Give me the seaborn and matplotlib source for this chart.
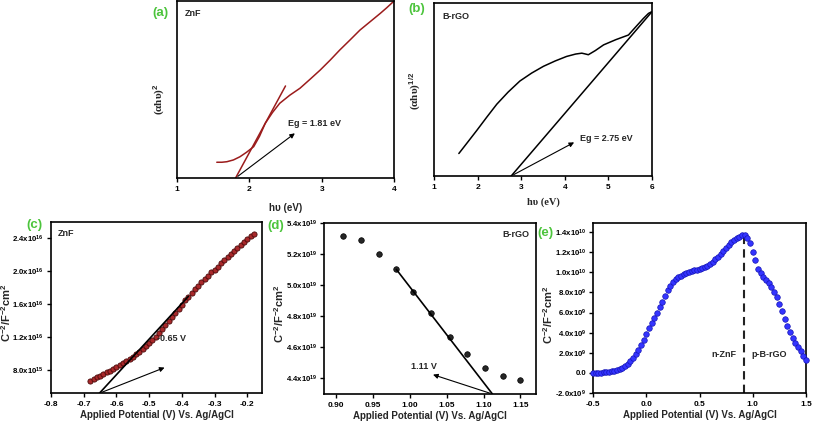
import matplotlib
matplotlib.use("Agg")
import matplotlib.pyplot as plt
import seaborn as sns

# ---- (a) ZnF Tauc plot ----
a_hv = [1.55, 1.62, 1.69, 1.78, 1.87, 1.96, 2.06, 2.14, 2.22, 2.32, 2.42, 2.56,
        2.70, 2.84, 2.98, 3.12, 3.25, 3.39, 3.53, 3.67, 3.81, 3.90, 3.99]
a_y = [8.9, 8.9, 9.2, 10.2, 12.0, 14.5, 17.7, 23.5, 30.9, 37.0, 42.2, 46.8,
       50.7, 55.8, 61.0, 66.7, 72.3, 77.9, 83.6, 88.3, 93.0, 96.2, 99.6]
a_fit_x = [1.81, 2.50]
a_fit_y = [0.0, 52.0]
a_eg = 1.81

# ---- (b) B-rGO Tauc plot ----
b_hv = [1.57, 1.78, 1.98, 2.21, 2.44, 2.70, 2.97, 3.24, 3.51, 3.78, 4.04, 4.25,
        4.39, 4.46, 4.54, 4.70, 4.89, 5.17, 5.46, 5.62, 5.80, 5.92, 5.99]
b_y = [13.0, 19.8, 26.3, 34.0, 41.5, 48.5, 54.9, 59.5, 63.4, 66.5, 69.1, 70.5,
       71.0, 70.6, 70.1, 72.5, 75.8, 78.8, 81.5, 86.0, 91.0, 94.0, 94.9]
b_fit_x = [2.77, 5.99]
b_fit_y = [0.0, 94.7]
b_eg = 2.77

# ---- (c) ZnF Mott-Schottky (x1e15) ----
c_v = [-0.68, -0.67, -0.66, -0.65, -0.64, -0.63, -0.62, -0.61, -0.60, -0.59,
       -0.58, -0.57, -0.56, -0.55, -0.54, -0.53, -0.52, -0.51, -0.50, -0.49,
       -0.48, -0.47, -0.46, -0.45, -0.44, -0.43, -0.42, -0.41, -0.40, -0.39,
       -0.38, -0.37, -0.36, -0.35, -0.34, -0.33, -0.32, -0.31, -0.30, -0.29,
       -0.28, -0.27, -0.26, -0.25, -0.24, -0.23, -0.22, -0.21, -0.20, -0.19, -0.18]
c_c2 = [6.7, 6.95, 7.15, 7.3, 7.5, 7.7, 7.9, 8.1, 8.35, 8.6,
        8.85, 9.1, 9.35, 9.6, 9.9, 10.2, 10.5, 10.9, 11.2, 11.6,
        12.0, 12.45, 12.9, 13.4, 13.9, 14.4, 14.9, 15.4, 15.9, 16.4,
        16.85, 17.3, 17.75, 18.2, 18.6, 19.0, 19.4, 19.8, 20.15, 20.5,
        20.9, 21.3, 21.65, 22.0, 22.4, 22.75, 23.1, 23.45, 23.8, 24.15, 24.45]
c_fit_x = [-0.652, -0.38]
c_fit_y = [5.17, 16.9]
c_yticks = [8.0, 12.0, 16.0, 20.0, 24.0]
c_ylabels = [r"8.0x10$^{15}$", r"1.2x10$^{16}$", r"1.6x10$^{16}$",
             r"2.0x10$^{16}$", r"2.4x10$^{16}$"]
c_xticks = [-0.8, -0.7, -0.6, -0.5, -0.4, -0.3, -0.2]

# ---- (d) B-rGO Mott-Schottky (x1e19) ----
d_v = [0.910, 0.934, 0.958, 0.982, 1.005, 1.029, 1.054, 1.078, 1.102, 1.126, 1.149]
d_c2 = [5.315, 5.293, 5.201, 5.101, 4.953, 4.820, 4.669, 4.558, 4.466, 4.417, 4.387]
d_fit_x = [0.982, 1.112]
d_fit_y = [5.101, 4.30]
d_yticks = [4.4, 4.6, 4.8, 5.0, 5.2, 5.4]
d_ylabels = [r"%.1fx10$^{19}$" % t for t in d_yticks]
d_xticks = [0.90, 0.95, 1.00, 1.05, 1.10, 1.15]

# ---- (e) heterojunction Mott-Schottky (x1e9) ----
e_v = [-0.500, -0.475, -0.450, -0.425, -0.400, -0.375, -0.350, -0.325, -0.300,
       -0.275, -0.250, -0.225, -0.200, -0.175, -0.150, -0.125, -0.100, -0.075,
       -0.050, -0.025, 0.000, 0.025, 0.050, 0.075, 0.100, 0.125, 0.150, 0.175,
       0.200, 0.225, 0.250, 0.275, 0.300, 0.325, 0.350, 0.375, 0.400, 0.425,
       0.450, 0.475, 0.500, 0.525, 0.550, 0.575, 0.600, 0.625, 0.650, 0.675,
       0.700, 0.725, 0.750, 0.775, 0.800, 0.825, 0.850, 0.875, 0.900, 0.925,
       0.950, 0.975, 1.000, 1.025, 1.050, 1.075, 1.100, 1.125, 1.150, 1.175,
       1.200, 1.225, 1.250, 1.275, 1.300, 1.325, 1.350, 1.375, 1.400, 1.425,
       1.450, 1.475, 1.500]
e_c2 = [0.00, 0.00, 0.02, 0.03, 0.05, 0.07, 0.10, 0.14, 0.19,
        0.25, 0.35, 0.48, 0.65, 0.88, 1.15, 1.45, 1.85, 2.25,
        2.75, 3.30, 3.90, 4.45, 4.95, 5.45, 5.95, 6.50, 7.05, 7.65,
        8.20, 8.65, 9.00, 9.30, 9.50, 9.65, 9.80, 9.95, 10.05, 10.12,
        10.20, 10.27, 10.33, 10.40, 10.50, 10.62, 10.80, 11.02, 11.28, 11.55,
        11.82, 12.12, 12.45, 12.75, 13.00, 13.25, 13.42, 13.55, 13.68, 13.72,
        13.45, 12.90, 12.05, 11.20, 10.35, 9.90, 9.55, 9.25, 8.95, 8.50,
        8.05, 7.50, 6.85, 6.15, 5.40, 4.70, 4.05, 3.50, 3.00, 2.55,
        2.15, 1.70, 1.25]
e_junction = 0.92
e_peak = 13.72
e_yticks = [-2, 0, 2, 4, 6, 8, 10, 12, 14]
e_ylabels = [r"-2.0x10$^{9}$", "0.0", r"2.0x10$^{9}$", r"4.0x10$^{9}$",
             r"6.0x10$^{9}$", r"8.0x10$^{9}$", r"1.0x10$^{10}$",
             r"1.2x10$^{10}$", r"1.4x10$^{10}$"]
e_xticks = [-0.5, 0.0, 0.5, 1.0, 1.5]

sns.set_theme(style="ticks")
plt.rcParams.update({
    "font.family": ["Liberation Sans", "DejaVu Sans"],
    "font.weight": "bold",
    "axes.labelweight": "bold",
    "mathtext.fontset": "custom",
    "mathtext.rm": "Liberation Sans:bold",
    "mathtext.bf": "Liberation Sans:bold",
    "mathtext.it": "Liberation Sans:bold:italic",
    "mathtext.default": "bf",
    "axes.linewidth": 1.2,
    "axes.edgecolor": "black",
    "xtick.color": "black",
    "ytick.color": "black",
    "xtick.labelsize": 6,
    "ytick.labelsize": 5.6,
    "xtick.major.size": 3,
    "ytick.major.size": 3,
    "xtick.major.width": 1,
    "ytick.major.width": 1,
    "xtick.major.pad": 2.5,
    "ytick.major.pad": 2,
})

W, H = 813, 426


def px_axes(x0, y0, x1, y1):
    return fig.add_axes([x0 / W, 1 - y1 / H, (x1 - x0) / W, (y1 - y0) / H])


def panel_label(x, y, s):
    fig.text(x / W, 1 - y / H, s, color="#4cc43c", fontsize=9.5,
             fontweight="bold", ha="center", va="center")


fig = plt.figure(figsize=(W / 100, H / 100), dpi=100)
red = "#9b1c1c"
bold = dict(fontweight="bold")
arrow = dict(arrowstyle="-|>", color="black", lw=0.8, mutation_scale=7)
serif = ["Liberation Serif", "DejaVu Serif"]

# (a)
ax = px_axes(177, 1, 394, 178)
sns.lineplot(x=a_hv, y=a_y, ax=ax, color=red, lw=1.1)
sns.lineplot(x=a_fit_x, y=a_fit_y, ax=ax, color=red, lw=1.1)
ax.annotate("", xy=(2.66, 26.2), xytext=(a_eg, 0), arrowprops=arrow)
ax.text(2.54, 31, "Eg = 1.81 eV", fontsize=6.5, va="center", **bold)
ax.text(0.035, 0.93, "ZnF", transform=ax.transAxes, fontsize=6.5, va="center", **bold)
ax.set_xlim(1, 4)
ax.set_ylim(0, 100)
ax.set_xticks([1, 2, 3, 4])
ax.set_yticks([])
ax.set_xlabel("hυ (eV)", fontsize=7)
ax.xaxis.set_label_coords(0.5, -0.14)
ax.set_ylabel(r"(αhυ)$^2$", fontsize=8, family=serif)
ax.yaxis.set_label_coords(-0.046, 0.445)
panel_label(160, 13, "(a)")

# (b)
ax = px_axes(434, 3, 652, 176)
sns.lineplot(x=b_hv, y=b_y, ax=ax, color="black", lw=1.1)
sns.lineplot(x=b_fit_x, y=b_fit_y, ax=ax, color="black", lw=1.1)
ax.annotate("", xy=(4.27, 20.2), xytext=(b_eg, 0), arrowprops=arrow)
ax.text(4.35, 21.7, "Eg = 2.75 eV", fontsize=6.5, va="center", **bold)
ax.text(0.04, 0.92, "B-rGO", transform=ax.transAxes, fontsize=6.5, va="center", **bold)
ax.set_xlim(1, 6)
ax.set_ylim(0, 100)
ax.set_xticks([1, 2, 3, 4, 5, 6])
ax.set_yticks([])
ax.set_xlabel("hυ (eV)", fontsize=7.5, family=serif)
ax.xaxis.set_label_coords(0.5, -0.125)
ax.set_ylabel(r"(αhυ)$^{1/2}$", fontsize=8, family=serif)
ax.yaxis.set_label_coords(-0.05, 0.49)
panel_label(417, 9, "(b)")

ms_label = r"C$^{-2}$/F$^{-2}$cm$^{2}$"
xl = "Applied Potential (V) Vs. Ag/AgCl"

# (c)
ax = px_axes(51, 222, 262, 393)
sns.scatterplot(x=c_v, y=c_c2, ax=ax, color="#a8282a", edgecolor="#4a0a0a",
                linewidth=0.6, s=14, zorder=3)
sns.lineplot(x=c_fit_x, y=c_fit_y, ax=ax, color="black", lw=1.2, zorder=4)
ax.annotate("", xy=(-0.445, 8.4), xytext=(-0.652, 5.17), arrowprops=arrow)
ax.text(-0.476, 11.85, "-0.65 V", fontsize=6.5, va="center", **bold)
ax.text(0.03, 0.93, "ZnF", transform=ax.transAxes, fontsize=6.5, va="center", **bold)
ax.set_xlim(-0.8, -0.155)
ax.set_ylim(5.2, 25.9)
ax.set_xticks(c_xticks)
ax.set_xticklabels(["%.1f" % t for t in c_xticks])
ax.set_yticks(c_yticks)
ax.set_yticklabels(c_ylabels)
ax.set_xlabel(xl, fontsize=7, labelpad=2)
ax.set_ylabel(ms_label, fontsize=8)
ax.yaxis.set_label_coords(-0.178, 0.47)
panel_label(34, 225, "(c)")

# (d)
ax = px_axes(324, 223, 536, 394)
sns.scatterplot(x=d_v, y=d_c2, ax=ax, color="#262626", edgecolor="black",
                linewidth=0.5, s=16, zorder=3)
sns.lineplot(x=d_fit_x, y=d_fit_y, ax=ax, color="black", lw=1.2, zorder=4)
ax.annotate("", xy=(1.028, 4.43), xytext=(1.112, 4.30), arrowprops=arrow)
ax.text(1.002, 4.48, "1.11 V", fontsize=6.5, va="center", **bold)
ax.text(0.97, 0.93, "B-rGO", transform=ax.transAxes, fontsize=6.5, va="center", ha="right", **bold)
ax.set_xlim(0.884, 1.171)
ax.set_ylim(4.3, 5.4)
ax.set_xticks(d_xticks)
ax.set_xticklabels(["%.2f" % t for t in d_xticks])
ax.set_yticks(d_yticks)
ax.set_yticklabels(d_ylabels)
ax.set_xlabel(xl, fontsize=7, labelpad=2)
ax.set_ylabel(ms_label, fontsize=8)
ax.yaxis.set_label_coords(-0.18, 0.47)
panel_label(276, 226, "(d)")

# (e)
ax = px_axes(593, 223, 806, 393)
sns.scatterplot(x=e_v, y=e_c2, ax=ax, color="#3434ff", edgecolor="#1414b4",
                linewidth=0.5, s=16, zorder=3, clip_on=False)
ax.axvline(e_junction, ymin=0, ymax=(e_peak + 2) / 16.9, color="#222222",
           lw=1.5, ls=(0, (4, 2.5)), zorder=2)
ax.text(0.615, 1.83, "n-ZnF", fontsize=6.5, va="center", **bold)
ax.text(0.99, 1.83, "p-B-rGO", fontsize=6.5, va="center", **bold)
ax.set_xlim(-0.5, 1.5)
ax.set_ylim(-2, 14.9)
ax.set_xticks(e_xticks)
ax.set_xticklabels(["%.1f" % t for t in e_xticks])
ax.set_yticks(e_yticks)
ax.set_yticklabels(e_ylabels)
ax.set_xlabel(xl, fontsize=7, labelpad=2)
ax.set_ylabel(ms_label, fontsize=8)
ax.yaxis.set_label_coords(-0.178, 0.46)
panel_label(545, 233, "(e)")

fig.savefig("out.png", dpi=100)
